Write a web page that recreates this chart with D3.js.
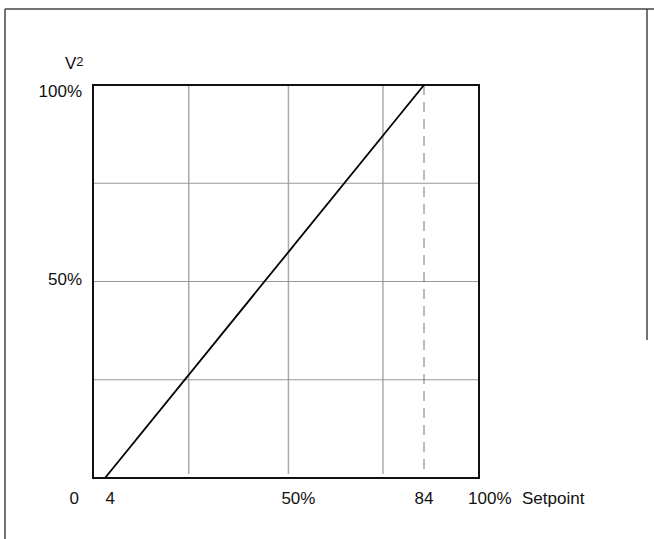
<!DOCTYPE html>
<html><head><meta charset="utf-8">
<script src="https://cdn.jsdelivr.net/npm/d3@7"></script>
<style>body{margin:0;background:#fff}svg{display:block}text{font-family:"Liberation Sans",Arial,sans-serif;fill:#111}</style>
</head><body>
<script>
// Data
const setpoint = [4, 84];            // % setpoint
const v2 = [0, 100];                 // V^2 %
const xGrid = [25, 50, 73.7];
const yGrid = [25, 50, 75];
const dashedAt = [84];
const xTickLabels = ["0", "4", "50%", "84", "100%"];
const xTickAt = [-3.7, 5.3, 52.5, 84, 100.5];
const yTickLabels = ["100%", "50%"];
const yTickAt = [97, 49];

const W = 654, H = 539;
const svg = d3.select("body").append("svg").attr("width", W).attr("height", H);

const x = d3.scaleLinear().domain([0, 100]).range([89.05, 487.8]);
const y = d3.scaleLinear().domain([0, 100]).range([478, 85]);
const L = 93, R = 479, T = y(100), B = y(0);

// outer frame
const fr = svg.append("g").attr("stroke", "#444").attr("stroke-width", 1.5).attr("fill", "none");
fr.append("line").attr("x1", 5).attr("x2", 654).attr("y1", 9).attr("y2", 9);
fr.append("line").attr("x1", 5).attr("x2", 5).attr("y1", 9).attr("y2", 539);
fr.append("line").attr("x1", 647).attr("x2", 647).attr("y1", 9).attr("y2", 340);

// grid
svg.append("g").selectAll("line").data(xGrid).join("line")
  .attr("x1", d => x(d)).attr("x2", d => x(d)).attr("y1", T).attr("y2", B - 4)
  .attr("stroke", "#aaa").attr("stroke-width", 1.5);
svg.append("g").selectAll("line").data(yGrid).join("line")
  .attr("x1", L).attr("x2", R).attr("y1", d => y(d)).attr("y2", d => y(d))
  .attr("stroke", "#999").attr("stroke-width", 1);
svg.append("g").selectAll("line").data(dashedAt).join("line")
  .attr("x1", d => x(d)).attr("x2", d => x(d)).attr("y1", T).attr("y2", B - 4)
  .attr("stroke", "#777").attr("stroke-width", 1).attr("stroke-dasharray", "10,7");

// frame of plot
svg.append("rect").attr("x", L).attr("y", T).attr("width", R - L).attr("height", B - T)
  .attr("fill", "none").attr("stroke", "#111").attr("stroke-width", 2);

// data line
const pts = setpoint.map((s, i) => [s, v2[i]]);
svg.append("path").datum(pts)
  .attr("d", d3.line().x(d => x(d[0])).y(d => y(d[1])))
  .attr("fill", "none").attr("stroke", "#000").attr("stroke-width", 1.8);

// x labels
svg.append("g").selectAll("text").data(xTickLabels).join("text")
  .attr("x", (d, i) => x(xTickAt[i])).attr("y", 504)
  .attr("text-anchor", "middle").attr("font-size", 17).text(d => d);
svg.append("text").attr("x", 522).attr("y", 504).attr("font-size", 17).text("Setpoint");

// y labels
svg.append("g").selectAll("text").data(yTickLabels).join("text")
  .attr("x", 82).attr("y", (d, i) => y(yTickAt[i]))
  .attr("text-anchor", "end").attr("font-size", 17).text(d => d);
const vt = svg.append("text").attr("x", 65).attr("y", 69).attr("font-size", 17);
vt.append("tspan").text("V");
vt.append("tspan").attr("font-size", 13).attr("dy", -3).text("2");
</script>
</body></html>
